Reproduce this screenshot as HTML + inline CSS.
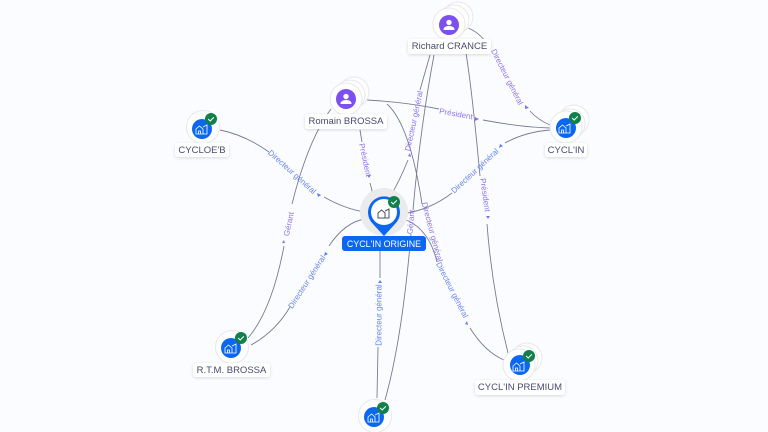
<!DOCTYPE html>
<html><head><meta charset="utf-8">
<style>
html,body{margin:0;padding:0;width:768px;height:432px;overflow:hidden;background:#fbfcff}
svg{position:absolute;left:0;top:0}
text{font-family:"Liberation Sans",sans-serif}
.e{fill:none;stroke:#777b97;stroke-width:.9}
.lp{font-size:8px;fill:#8f74ef;text-anchor:middle;dominant-baseline:central}
.lb{font-size:8px;fill:#6886ee;text-anchor:middle;dominant-baseline:central}
.n{font-size:9.5px;fill:#474b6e;text-anchor:middle;dominant-baseline:central}
.w{fill:#fff;stroke:#e8e8ec;stroke-width:1}
.lab{fill:#fff;filter:url(#s)}
</style></head><body>
<svg width="768" height="432" viewBox="0 0 768 432" xmlns="http://www.w3.org/2000/svg">
<defs>
<filter id="s" x="-20%" y="-40%" width="140%" height="200%"><feDropShadow dx="0" dy="1" stdDeviation="1.5" flood-color="#000" flood-opacity=".14"/></filter>
<g id="bld" fill="none" stroke="#fff" stroke-width=".8"><path d="M-6 5V0l3.500-3L1 0v5zM-3.500 5V2h2v3M1 -2L5-4V5H1"/></g>
<g id="chk"><circle r="6" fill="#12804a"/><path d="M-2.800 0l2 2 3.600-3.600" fill="none" stroke="#fff" stroke-width="1"/></g>
</defs>

<!-- edges -->
<path class="e" d="M220 130Q245 135 269 152"/>
<path class="e" d="M324 197Q345 209 365 212"/>
<path class="e" d="M360 130L362 142"/>
<path class="e" d="M370 183L374 198"/>
<path class="e" d="M367 100Q405 102 439 109"/>
<path class="e" d="M483 120Q520 127 550 128"/>
<path class="e" d="M468 28Q483 34 490 50"/>
<path class="e" d="M530 111Q538 120 550 125"/>
<path class="e" d="M430 55L420 90"/>
<path class="e" d="M408 160Q400 180 390 197"/>
<path class="e" d="M434 55Q420 130 413 210"/>
<path class="e" d="M411 234Q402 340 385 400"/>
<path class="e" d="M466 53Q472 90 480 176"/>
<path class="e" d="M487 224Q492 290 508 353"/>
<path class="e" d="M387 104Q410 125 422 204"/>
<path class="e" d="M402 214Q430 210 452 193"/>
<path class="e" d="M505 143Q525 132 550 130"/>
<path class="e" d="M400 218Q428 225 437 262"/>
<path class="e" d="M470 328Q485 352 504 360"/>
<path class="e" d="M365 219Q345 222 329 246"/>
<path class="e" d="M290 307Q275 332 251 345"/>
<path class="e" d="M331 109Q308 140 292 204"/>
<path class="e" d="M284 246Q272 310 248 338"/>
<path class="e" d="M380 251V278"/>
<path class="e" d="M378 347L377 398"/>

<!-- arrowheads -->
<g fill="#5f7fee">
<path d="M321 195l-4-2 1 4z"/><path d="M502 146l-4 2 1-4z" transform="translate(1 0)"/>
<path d="M325 252l-1 4 4-2z"/><path d="M380 280l-2 3h4z"/>
<path d="M467 321l-2 3 3 1z"/>
</g>
<g fill="#8a6cf0">
<path d="M369 178l-2-3 4 0z"/><path d="M479 119l-4-2v4z"/><path d="M529 108l-4-3 0 4z"/>
<path d="M410 153l-2 3 3 1z"/><path d="M488 219l-2-3h4z"/><path d="M284 240l-2 3h3z"/>
</g>

<!-- edge labels -->
<text class="lb" transform="translate(292 172) rotate(42)">Directeur général</text>
<text class="lp" transform="translate(365 160) rotate(78)">Président</text>
<text class="lp" transform="translate(456 114) rotate(10)">Président</text>
<text class="lp" transform="translate(507 77) rotate(63)">Directeur général</text>
<text class="lp" transform="translate(414 121) rotate(-78)">Directeur général</text>
<text class="lp" transform="translate(411 222) rotate(-85)">Gérant</text>
<text class="lp" transform="translate(485 195) rotate(82)">Président</text>
<text class="lp" transform="translate(432 232) rotate(75)">Directeur général</text>
<text class="lb" transform="translate(452 290) rotate(63)">Directeur général</text>
<text class="lb" transform="translate(475 171) rotate(-43)">Directeur général</text>
<text class="lb" transform="translate(307 282) rotate(-57)">Directeur général</text>
<text class="lp" transform="translate(289 224) rotate(-78)">Gérant</text>
<text class="lb" transform="translate(379 315) rotate(-90)">Directeur général</text>

<!-- Richard -->
<circle class="w" cx="458" cy="17" r="15"/><circle class="w" cx="454" cy="20" r="15"/><circle class="w" cx="449" cy="24" r="16"/>
<circle cx="449" cy="25" r="10" fill="#7c4ff0"/>
<circle cx="449" cy="22.500" r="2.700" fill="#fff"/><path d="M443.500 30q0-4 5.500-4t5.500 4z" fill="#fff"/>
<rect class="lab" x="408" y="39" width="83" height="15" rx="3"/>
<text class="n" x="449.500" y="46.500">Richard CRANCE</text>

<!-- Romain -->
<circle class="w" cx="354" cy="92" r="15"/><circle class="w" cx="350" cy="95" r="15"/><circle class="w" cx="346" cy="99" r="16"/>
<circle cx="346" cy="99" r="10" fill="#7c4ff0"/>
<circle cx="346" cy="96.500" r="2.700" fill="#fff"/><path d="M340.500 104q0-4 5.500-4t5.500 4z" fill="#fff"/>
<rect class="lab" x="305" y="114" width="82" height="15" rx="3"/>
<text class="n" x="346" y="121.500">Romain BROSSA</text>

<!-- CYCLOE'B -->
<circle class="w" cx="203" cy="127" r="16.500"/>
<circle cx="202" cy="129" r="10" fill="#0b67f0"/>
<use href="#bld" x="202" y="129"/><use href="#chk" x="211" y="119"/>
<rect class="lab" x="175" y="143" width="54" height="14" rx="3"/>
<text class="n" x="202" y="150.500">CYCLOE'B</text>

<!-- CYCL'IN -->
<circle class="w" cx="574" cy="120" r="15"/><circle class="w" cx="570" cy="124" r="15"/><circle class="w" cx="566" cy="127" r="16"/>
<circle cx="566" cy="128" r="10" fill="#0b67f0"/>
<use href="#bld" x="565" y="128"/><use href="#chk" x="575" y="118"/>
<rect class="lab" x="545" y="143" width="42" height="14" rx="3"/>
<text class="n" x="566" y="150.500">CYCL'IN</text>

<!-- R.T.M. -->
<circle class="w" cx="232" cy="347" r="16.500"/>
<circle cx="231" cy="348" r="10" fill="#0b67f0"/>
<use href="#bld" x="231" y="348"/><use href="#chk" x="241" y="338"/>
<rect class="lab" x="193" y="363" width="77" height="14" rx="3"/>
<text class="n" x="231.500" y="370.500">R.T.M. BROSSA</text>

<!-- bottom -->
<circle class="w" cx="375" cy="416" r="16.500"/>
<circle cx="374" cy="417" r="10" fill="#0b67f0"/>
<use href="#bld" x="374" y="417"/><use href="#chk" x="383" y="408"/>

<!-- PREMIUM -->
<circle class="w" cx="527" cy="358" r="15"/><circle class="w" cx="523" cy="361" r="15"/><circle class="w" cx="519" cy="365" r="16"/>
<circle cx="520" cy="365" r="10" fill="#0b67f0"/>
<use href="#bld" x="519" y="366"/><use href="#chk" x="529" y="356"/>
<rect class="lab" x="475" y="380" width="90" height="15" rx="3"/>
<text class="n" x="520" y="387.500">CYCL'IN PREMIUM</text>

<!-- ORIGINE -->
<circle cx="384" cy="212" r="24" fill="#ebebed"/>
<path d="M384 236L373 224A16 16 0 1 1 395 224Z" fill="#0b67f0"/>
<circle cx="384" cy="212" r="13" fill="#fff"/>
<g transform="translate(384 213)" fill="none" stroke="#4a4d62" stroke-width="1"><path d="M-6 5V0l3.500-3L1 0v5z"/><path d="M1-2L5-4V5H1"/></g>
<use href="#chk" x="394" y="202"/>
<rect x="342" y="236" width="84" height="15" rx="3" fill="#0b67f0"/>
<text class="n" x="384" y="244" style="fill:#fff;font-size:8.900px">CYCL'IN ORIGINE</text>
</svg>
</body></html>
